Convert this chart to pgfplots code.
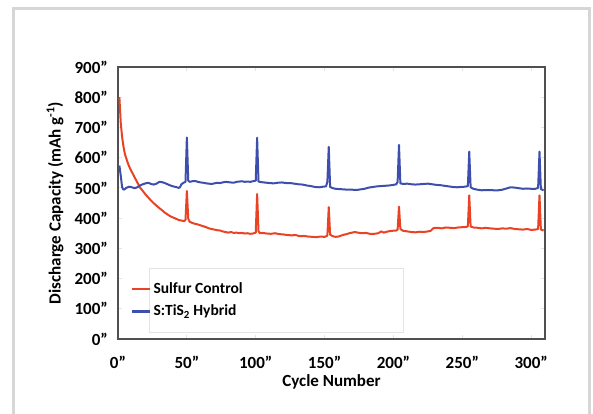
\documentclass[border=0pt]{standalone}
\usepackage{fontspec}
\setmainfont{Carlito}
\usepackage{pgfplots}
\pgfplotsset{compat=1.18}
\usetikzlibrary{calc}
\definecolor{sred}{RGB}{234,66,36}
\definecolor{sblue}{RGB}{62,78,172}
\definecolor{axgray}{RGB}{80,80,80}
\definecolor{framegray}{RGB}{214,214,214}
\definecolor{boxgray}{RGB}{228,228,228}
\begin{document}
\begin{tikzpicture}
\useasboundingbox (0,0) rectangle (593pt,414pt);
\draw[framegray, line width=3pt] (13pt,-2pt) -- (13pt,405pt) -- (589pt,405pt) -- (589pt,-2pt);
\draw[boxgray, line width=0.8pt] (149pt,82pt) -- (149pt,146pt) -- (403pt,146pt) -- (403pt,82pt) -- cycle;
\begin{axis}[
  at={(118pt,75pt)}, anchor=south west,
  scale only axis, width=427pt, height=272pt,
  xmin=0, xmax=310, ymin=0, ymax=900,
  axis line style={axgray, line width=2pt},
  xtick={0,50,100,150,200,250,300},
  xticklabels={0”,50”,100”,150”,200”,250”,300”},
  ytick={0,100,...,900},
  yticklabels={0”,100”,200”,300”,400”,500”,600”,700”,800”,900”},
  tick align=inside, major tick length=4pt,
  tick style={boxgray, line width=0.8pt},
  x tick label style={font=\fontsize{17}{20}\selectfont\bfseries, inner sep=0pt, anchor=center, yshift=-23pt},
  y tick label style={font=\fontsize{17}{20}\selectfont\bfseries, inner sep=0pt, anchor=east, xshift=-10pt},
  xlabel={Cycle Number},
  ylabel={Discharge Capacity (mAh g\textsuperscript{-1})},
  every axis x label/.style={at={(rel axis cs:0.5,0)}, anchor=center, yshift=-43pt, font=\fontsize{17}{20}\selectfont\bfseries},
  every axis y label/.style={at={($(rel axis cs:0,0.5)+(-63pt,0pt)$)}, anchor=center, rotate=90, font=\fontsize{17}{20}\selectfont\bfseries},
  legend cell align=left,
  legend style={at={(rel axis cs:0.03,0.215)}, anchor=north west, draw=none, fill=none,
    font=\fontsize{15.5}{18}\selectfont\bfseries, row sep=6pt, inner sep=0pt},
  legend image code/.code={\draw[#1, line width=2.5pt] (0pt,0pt) -- (18pt,0pt);},
]
\addplot[sred, line width=2pt, line join=round] coordinates {
(1,800)(2,715)(3,668)(4,636)(5,612)(6,598)(7,584)(8,572)(9,562)(10,553)(11,545)(12,535)(13,527)(14,518)(15,510)(16,501)
(18,490)(20,478)(22,468)(24,458)(26,449)(28,441)(30,433)(32,426)(34,418)(36,412)(38,406)(40,402)(42,398)(44,394)(46,392)(48,390)(49,394)
(50,490)(51,398)(52,388)(54,384)(56,381)(58,379)(60,376)(62,373)(64,370)(66,366)(68,364)(70,362)(72,360)(74,359)(76,356)(78,354)(80,352)
(82,354)(84,351)(86,352)(88,350)(90,351)(92,349)(94,350)(96,348)(98,349)(100,352)(101,480)(102,357)(103,350)(105,351)(108,349)(111,348)
(114,350)(117,347)(120,346)(123,344)(126,343)(129,344)(132,340)(135,341)(138,339)(141,338)(144,337)(147,339)(150,338)(152,342)(153,436)
(154,345)(156,340)(158,338)(160,339)(162,342)(164,345)(166,347)(168,350)(170,352)(172,354)(174,352)(177,350)(180,351)(183,348)(186,348)
(189,350)(191,356)(193,352)(196,356)(199,358)(202,359)(203,362)(204,438)(205,364)(207,358)(210,356)(213,354)(216,353)(219,355)(222,354)
(225,356)(227,358)(229,367)(232,368)(235,366)(238,369)(241,368)(244,367)(247,369)(250,370)(253,371)(254,373)(255,475)(256,372)(258,369)
(261,368)(264,366)(267,368)(270,366)(273,365)(276,364)(279,366)(282,365)(285,367)(288,364)(291,363)(294,362)(297,364)(300,361)(303,362)
(305,364)(306,475)(307,362)(309,359)
};
\addlegendentry{Sulfur Control}
\addplot[sblue, line width=2pt, line join=round] coordinates {
(1,574)(2,540)(3,502)(4,494)(5,496)(6,500)(8,504)(10,502)(12,499)(14,502)(16,508)(18,512)(20,515)(22,517)(24,513)(26,511)(28,514)(30,520)
(32,519)(34,516)(36,512)(38,508)(40,505)(42,503)(44,500)(45,502)(46,512)(48,518)(49,520)(50,667)(51,524)(52,520)(54,522)(56,523)(58,520)
(60,518)(62,517)(64,515)(66,514)(68,513)(70,515)(72,517)(74,516)(76,518)(78,520)(80,519)(82,518)(84,517)(86,520)(88,521)(90,522)(92,520)
(94,521)(96,520)(98,522)(100,524)(101,666)(102,521)(104,519)(106,518)(108,517)(110,516)(113,515)(116,517)(119,518)(122,516)(125,516)
(128,514)(131,512)(134,511)(137,508)(140,506)(143,503)(146,502)(149,504)(151,505)(152,520)(153,636)(154,503)(156,499)(158,497)(161,496)
(164,495)(167,494)(170,494)(173,493)(176,495)(179,497)(182,501)(185,503)(188,505)(191,506)(194,507)(197,508)(200,510)(202,512)(203,520)
(204,642)(205,515)(207,513)(210,514)(213,512)(216,511)(219,512)(222,513)(225,514)(228,512)(231,510)(234,509)(237,507)(240,505)(243,503)
(246,502)(249,503)(252,504)(254,506)(255,620)(256,502)(258,497)(261,494)(264,492)(267,493)(270,493)(273,492)(276,492)(279,494)(282,498)
(285,502)(288,501)(291,499)(294,497)(297,498)(300,497)(303,497)(305,500)(306,620)(307,496)(309,492)
};
\addlegendentry{S:TiS\textsubscript{2} Hybrid}
\end{axis}
\end{tikzpicture}
\end{document}
